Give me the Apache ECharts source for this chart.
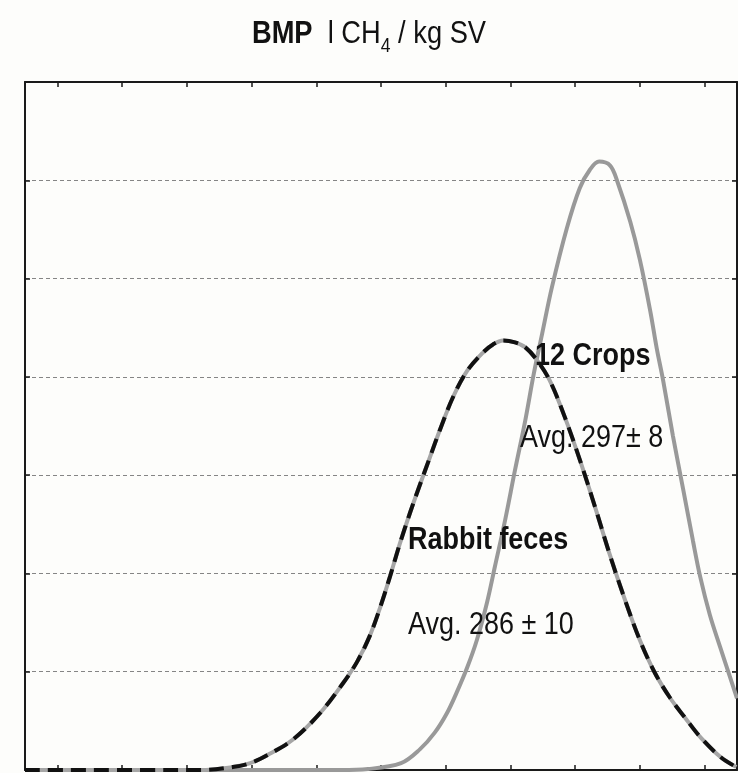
<!DOCTYPE html>
<html>
<head>
<meta charset="utf-8">
<script src="https://cdn.jsdelivr.net/npm/echarts@6/dist/echarts.min.js"></script>
<style>
html,body{margin:0;padding:0;background:#fdfdfb;}
#c{width:738px;height:773px;}
</style>
</head>
<body>
<div id="c"></div>
<script>
// ---- data ----
const xTicks = [230, 240, 250, 260, 270, 280, 290, 300, 310, 320, 330];

const rabbitX = [225, 252.0, 257.1, 259.8, 262.4, 266.4, 270.6, 274.1, 276.3, 278.3, 279.9, 281.4, 282.9, 284.5, 286.0, 287.6, 289.1, 291.1, 293.3, 295.8, 297.3, 298.9, 300.7, 302.3, 304.1, 306.1, 308.4, 310.8, 313.1, 315.4, 317.7, 320.0, 322.3, 324.7, 327.0, 329.4, 332.5, 334.9];
const rabbitY = [0, 0, 0.03, 0.07, 0.15, 0.31, 0.58, 0.88, 1.10, 1.37, 1.66, 1.97, 2.30, 2.62, 2.90, 3.19, 3.46, 3.79, 4.06, 4.25, 4.33, 4.37, 4.35, 4.30, 4.17, 3.96, 3.59, 3.14, 2.67, 2.18, 1.73, 1.32, 0.99, 0.73, 0.53, 0.33, 0.13, 0.03];

const cropsX = [225, 273.7, 278.0, 283.1, 286.0, 288.3, 290.2, 291.7, 293.3, 294.8, 296.4, 297.6, 299.2, 300.7, 302.3, 303.6, 304.9, 306.4, 308.7, 310.7, 312.3, 313.7, 315.4, 316.5, 318.5, 320.0, 321.6, 322.6, 323.6, 325.1, 326.7, 328.2, 329.3, 330.8, 332.4, 333.9, 335.0];
const cropsY = [0, 0, 0.01, 0.07, 0.21, 0.38, 0.58, 0.79, 1.04, 1.32, 1.71, 2.07, 2.55, 3.05, 3.56, 4.03, 4.44, 4.91, 5.51, 5.92, 6.11, 6.19, 6.15, 5.99, 5.58, 5.19, 4.67, 4.29, 3.96, 3.40, 2.85, 2.33, 1.97, 1.58, 1.25, 0.95, 0.73];

const titleText = '{b|BMP}  l CH{s|4} / kg SV';
const labels = {
  cropsName: '12 Crops',
  cropsAvg: 'Avg. 297\u00b1 8',
  rabbitName: 'Rabbit feces',
  rabbitAvg: 'Avg. 286 \u00b1 10'
};

const pair = (xs, ys) => xs.map((x, i) => [x, ys[i]]);
const FONT = "'Liberation Sans', Arial, sans-serif";
const SQ = 0.87; // horizontal squeeze to mimic the condensed face

const chart = echarts.init(document.getElementById('c'), null, {renderer: 'canvas'});

const xCommon = {
  type: 'value', min: 225, max: 335,
  axisLine: {show: true, onZero: false, lineStyle: {color: '#1a1a1a', width: 2}},
  axisTick: {show: true, inside: true, length: 5, customValues: xTicks, lineStyle: {color: '#1a1a1a', width: 1.5}},
  axisLabel: {show: false},
  splitLine: {show: false}
};
const yCommon = {
  type: 'value', min: 0, max: 7, interval: 1,
  axisLine: {show: true, onZero: false, lineStyle: {color: '#1a1a1a', width: 2}},
  axisTick: {show: true, inside: true, length: 5, lineStyle: {color: '#1a1a1a', width: 1.5}},
  axisLabel: {show: false}
};

const txt = (s, x, y, bold) => ({
  type: 'text', x: x, y: y, scaleX: SQ, z: 10,
  style: {text: s, font: (bold ? 'bold ' : '') + '31px ' + FONT, fill: '#111', align: 'left', verticalAlign: 'middle'}
});

chart.setOption({
  backgroundColor: '#fdfdfb',
  animation: false,
  grid: {left: 25, right: 1, top: 82, bottom: 3, containLabel: false},
  xAxis: [
    Object.assign({position: 'bottom'}, xCommon),
    Object.assign({position: 'top'}, xCommon)
  ],
  yAxis: [
    Object.assign({position: 'left', splitLine: {show: true, lineStyle: {color: '#858585', width: 1, type: [4, 3]}}}, yCommon),
    Object.assign({position: 'right', splitLine: {show: false}}, yCommon)
  ],
  series: [
    {
      name: '12 Crops', type: 'line', smooth: 0.35, symbol: 'none',
      data: pair(cropsX, cropsY),
      lineStyle: {color: '#999999', width: 4}, z: 3
    },
    {
      name: 'Rabbit feces base', type: 'line', smooth: 0.35, symbol: 'none',
      data: pair(rabbitX, rabbitY),
      lineStyle: {color: '#a6a6a6', width: 4}, z: 4
    },
    {
      name: 'Rabbit feces', type: 'line', smooth: 0.35, symbol: 'none',
      data: pair(rabbitX, rabbitY),
      lineStyle: {color: '#111', width: 4, type: [15, 8]}, z: 5
    }
  ],
  graphic: [
    {
      type: 'text', x: 369, y: 12, scaleX: 0.88, z: 10,
      style: {
        text: titleText, align: 'center', verticalAlign: 'top',
        fontFamily: FONT, fontSize: 31, fill: '#111', lineHeight: 44,
        rich: {
          b: {fontFamily: FONT, fontSize: 31, fontWeight: 'bold', fill: '#111', lineHeight: 44},
          s: {fontFamily: FONT, fontSize: 20, fill: '#111', lineHeight: 17, verticalAlign: 'bottom'}
        }
      }
    },
    txt(labels.cropsName, 535, 356, true),
    txt(labels.cropsAvg, 520, 438, false),
    txt(labels.rabbitName, 408, 540, true),
    txt(labels.rabbitAvg, 408, 625, false)
  ]
});
</script>
</body>
</html>
